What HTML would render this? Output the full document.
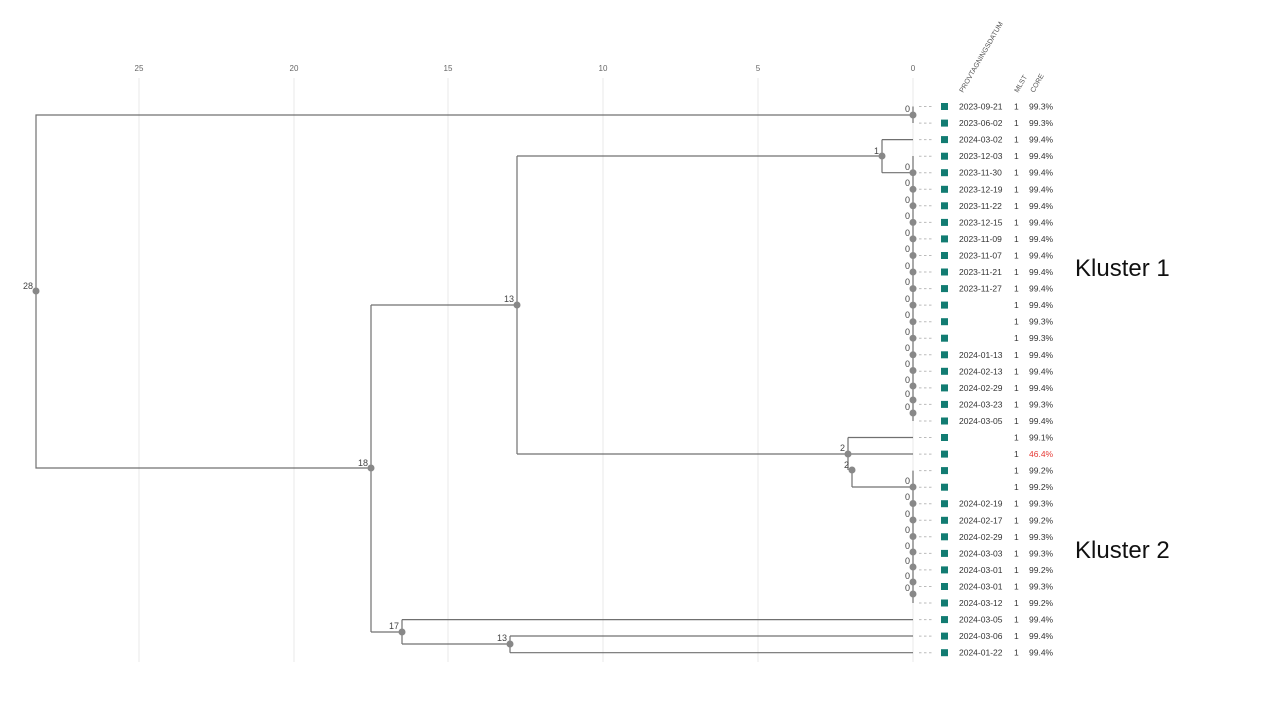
<!DOCTYPE html>
<html><head><meta charset="utf-8"><style>
html,body{margin:0;padding:0;background:#fff;}
svg{display:block;font-family:"Liberation Sans",sans-serif;}
.ax{font-size:8px;fill:#666;text-anchor:middle}
.g{stroke:#e8e8e8;stroke-width:1}
.l{stroke:#707070;stroke-width:1.2;fill:none}
.d{fill:#888}
.n{font-size:9px;fill:#444;text-anchor:end}
.t{font-size:8.5px;fill:#333}
.sq{fill:#127c72}
.ds{stroke:#bbb;stroke-width:1;stroke-dasharray:2.5,2.5}
.h{font-size:7px;fill:#555}
</style></head><body>
<svg width="1280" height="720" viewBox="0 0 1280 720">
<g>
<line class="g" x1="139" y1="78" x2="139" y2="662"/>
<line class="g" x1="294" y1="78" x2="294" y2="662"/>
<line class="g" x1="448" y1="78" x2="448" y2="662"/>
<line class="g" x1="603" y1="78" x2="603" y2="662"/>
<line class="g" x1="758" y1="78" x2="758" y2="662"/>
<line class="g" x1="913" y1="78" x2="913" y2="662"/>
<text class="ax" x="139" y="71">25</text>
<text class="ax" x="294" y="71">20</text>
<text class="ax" x="448" y="71">15</text>
<text class="ax" x="603" y="71">10</text>
<text class="ax" x="758" y="71">5</text>
<text class="ax" x="913" y="71">0</text>
</g>
<text class="h" transform="translate(963,93) rotate(-60)">PROVTAGNINGSDATUM</text>
<text class="h" transform="translate(1018,93) rotate(-60)">MLST</text>
<text class="h" transform="translate(1034,93) rotate(-60)">CORE</text>
<!-- tree lines -->
<path class="l" d="M913,106.5 V123 M913,115 H36 V468 H371"/>
<path class="l" d="M371,305 V632 M371,305 H517 M371,632 H402"/>
<path class="l" d="M517,156 V454 M517,156 H882 M517,454 H848"/>
<path class="l" d="M882,139.6 V172.7 M882,139.6 H913 M882,172.7 H913"/>
<path class="l" d="M913,156 V421"/>
<path class="l" d="M848,437.5 V470 M848,437.5 H913 M848,454 H913"/>
<path class="l" d="M852,470 V487 M852,487 H913 M913,470.6 V603"/>
<path class="l" d="M402,619.6 V644 M402,619.6 H913 M402,644 H510"/>
<path class="l" d="M510,636 V652.7 M510,636 H913 M510,652.7 H913"/>
<!-- dots -->
<g class="d">
<circle cx="36" cy="291" r="3.5"/><circle cx="371" cy="468" r="3.5"/><circle cx="517" cy="305" r="3.5"/>
<circle cx="882" cy="156" r="3.5"/><circle cx="848" cy="454" r="3.5"/><circle cx="852" cy="470" r="3.5"/>
<circle cx="402" cy="632" r="3.5"/><circle cx="510" cy="644" r="3.5"/><circle cx="913" cy="115" r="3.5"/>
<circle cx="913" cy="172.7" r="3.5"/><circle cx="913" cy="189.3" r="3.5"/><circle cx="913" cy="205.8" r="3.5"/>
<circle cx="913" cy="222.4" r="3.5"/><circle cx="913" cy="238.9" r="3.5"/><circle cx="913" cy="255.5" r="3.5"/>
<circle cx="913" cy="272" r="3.5"/><circle cx="913" cy="288.6" r="3.5"/><circle cx="913" cy="305.1" r="3.5"/>
<circle cx="913" cy="321.7" r="3.5"/><circle cx="913" cy="338.2" r="3.5"/><circle cx="913" cy="354.8" r="3.5"/>
<circle cx="913" cy="370.5" r="3.5"/><circle cx="913" cy="386" r="3.5"/><circle cx="913" cy="400" r="3.5"/>
<circle cx="913" cy="413" r="3.5"/>
<circle cx="913" cy="487" r="3.5"/><circle cx="913" cy="503.5" r="3.5"/><circle cx="913" cy="520" r="3.5"/>
<circle cx="913" cy="536.5" r="3.5"/><circle cx="913" cy="552" r="3.5"/><circle cx="913" cy="567" r="3.5"/>
<circle cx="913" cy="582" r="3.5"/><circle cx="913" cy="594" r="3.5"/>
</g>
<g class="n">
<text x="33" y="289">28</text><text x="368" y="466">18</text><text x="514" y="302">13</text>
<text x="879" y="154">1</text><text x="845" y="451">2</text><text x="849" y="468">2</text>
<text x="399" y="629">17</text><text x="507" y="641">13</text><text x="910" y="112">0</text>
<text x="910" y="170">0</text><text x="910" y="186">0</text><text x="910" y="203">0</text>
<text x="910" y="219">0</text><text x="910" y="236">0</text><text x="910" y="252">0</text>
<text x="910" y="269">0</text><text x="910" y="285">0</text><text x="910" y="302">0</text>
<text x="910" y="318">0</text><text x="910" y="335">0</text><text x="910" y="351">0</text>
<text x="910" y="367">0</text><text x="910" y="383">0</text><text x="910" y="397">0</text>
<text x="910" y="410">0</text>
<text x="910" y="484">0</text><text x="910" y="500">0</text><text x="910" y="517">0</text>
<text x="910" y="533">0</text><text x="910" y="549">0</text><text x="910" y="564">0</text>
<text x="910" y="579">0</text><text x="910" y="591">0</text>
</g>
<!-- rows -->
<g id="rows">
<g transform="translate(0,106.5)"><line class="ds" x1="919" y1="0" x2="932" y2="0"/><rect class="sq" x="941" y="-3.5" width="7" height="7"/><text class="t" x="959" y="3">2023-09-21</text><text class="t" x="1014" y="3">1</text><text class="t" x="1029" y="3">99.3%</text></g>
<g transform="translate(0,123.1)"><line class="ds" x1="919" y1="0" x2="932" y2="0"/><rect class="sq" x="941" y="-3.5" width="7" height="7"/><text class="t" x="959" y="3">2023-06-02</text><text class="t" x="1014" y="3">1</text><text class="t" x="1029" y="3">99.3%</text></g>
<g transform="translate(0,139.6)"><line class="ds" x1="919" y1="0" x2="932" y2="0"/><rect class="sq" x="941" y="-3.5" width="7" height="7"/><text class="t" x="959" y="3">2024-03-02</text><text class="t" x="1014" y="3">1</text><text class="t" x="1029" y="3">99.4%</text></g>
<g transform="translate(0,156.2)"><line class="ds" x1="919" y1="0" x2="932" y2="0"/><rect class="sq" x="941" y="-3.5" width="7" height="7"/><text class="t" x="959" y="3">2023-12-03</text><text class="t" x="1014" y="3">1</text><text class="t" x="1029" y="3">99.4%</text></g>
<g transform="translate(0,172.7)"><line class="ds" x1="919" y1="0" x2="932" y2="0"/><rect class="sq" x="941" y="-3.5" width="7" height="7"/><text class="t" x="959" y="3">2023-11-30</text><text class="t" x="1014" y="3">1</text><text class="t" x="1029" y="3">99.4%</text></g>
<g transform="translate(0,189.3)"><line class="ds" x1="919" y1="0" x2="932" y2="0"/><rect class="sq" x="941" y="-3.5" width="7" height="7"/><text class="t" x="959" y="3">2023-12-19</text><text class="t" x="1014" y="3">1</text><text class="t" x="1029" y="3">99.4%</text></g>
<g transform="translate(0,205.8)"><line class="ds" x1="919" y1="0" x2="932" y2="0"/><rect class="sq" x="941" y="-3.5" width="7" height="7"/><text class="t" x="959" y="3">2023-11-22</text><text class="t" x="1014" y="3">1</text><text class="t" x="1029" y="3">99.4%</text></g>
<g transform="translate(0,222.4)"><line class="ds" x1="919" y1="0" x2="932" y2="0"/><rect class="sq" x="941" y="-3.5" width="7" height="7"/><text class="t" x="959" y="3">2023-12-15</text><text class="t" x="1014" y="3">1</text><text class="t" x="1029" y="3">99.4%</text></g>
<g transform="translate(0,238.9)"><line class="ds" x1="919" y1="0" x2="932" y2="0"/><rect class="sq" x="941" y="-3.5" width="7" height="7"/><text class="t" x="959" y="3">2023-11-09</text><text class="t" x="1014" y="3">1</text><text class="t" x="1029" y="3">99.4%</text></g>
<g transform="translate(0,255.5)"><line class="ds" x1="919" y1="0" x2="932" y2="0"/><rect class="sq" x="941" y="-3.5" width="7" height="7"/><text class="t" x="959" y="3">2023-11-07</text><text class="t" x="1014" y="3">1</text><text class="t" x="1029" y="3">99.4%</text></g>
<g transform="translate(0,272)"><line class="ds" x1="919" y1="0" x2="932" y2="0"/><rect class="sq" x="941" y="-3.5" width="7" height="7"/><text class="t" x="959" y="3">2023-11-21</text><text class="t" x="1014" y="3">1</text><text class="t" x="1029" y="3">99.4%</text></g>
<g transform="translate(0,288.6)"><line class="ds" x1="919" y1="0" x2="932" y2="0"/><rect class="sq" x="941" y="-3.5" width="7" height="7"/><text class="t" x="959" y="3">2023-11-27</text><text class="t" x="1014" y="3">1</text><text class="t" x="1029" y="3">99.4%</text></g>
<g transform="translate(0,305.1)"><line class="ds" x1="919" y1="0" x2="932" y2="0"/><rect class="sq" x="941" y="-3.5" width="7" height="7"/><text class="t" x="1014" y="3">1</text><text class="t" x="1029" y="3">99.4%</text></g>
<g transform="translate(0,321.7)"><line class="ds" x1="919" y1="0" x2="932" y2="0"/><rect class="sq" x="941" y="-3.5" width="7" height="7"/><text class="t" x="1014" y="3">1</text><text class="t" x="1029" y="3">99.3%</text></g>
<g transform="translate(0,338.2)"><line class="ds" x1="919" y1="0" x2="932" y2="0"/><rect class="sq" x="941" y="-3.5" width="7" height="7"/><text class="t" x="1014" y="3">1</text><text class="t" x="1029" y="3">99.3%</text></g>
<g transform="translate(0,354.8)"><line class="ds" x1="919" y1="0" x2="932" y2="0"/><rect class="sq" x="941" y="-3.5" width="7" height="7"/><text class="t" x="959" y="3">2024-01-13</text><text class="t" x="1014" y="3">1</text><text class="t" x="1029" y="3">99.4%</text></g>
<g transform="translate(0,371.3)"><line class="ds" x1="919" y1="0" x2="932" y2="0"/><rect class="sq" x="941" y="-3.5" width="7" height="7"/><text class="t" x="959" y="3">2024-02-13</text><text class="t" x="1014" y="3">1</text><text class="t" x="1029" y="3">99.4%</text></g>
<g transform="translate(0,387.9)"><line class="ds" x1="919" y1="0" x2="932" y2="0"/><rect class="sq" x="941" y="-3.5" width="7" height="7"/><text class="t" x="959" y="3">2024-02-29</text><text class="t" x="1014" y="3">1</text><text class="t" x="1029" y="3">99.4%</text></g>
<g transform="translate(0,404.4)"><line class="ds" x1="919" y1="0" x2="932" y2="0"/><rect class="sq" x="941" y="-3.5" width="7" height="7"/><text class="t" x="959" y="3">2024-03-23</text><text class="t" x="1014" y="3">1</text><text class="t" x="1029" y="3">99.3%</text></g>
<g transform="translate(0,421)"><line class="ds" x1="919" y1="0" x2="932" y2="0"/><rect class="sq" x="941" y="-3.5" width="7" height="7"/><text class="t" x="959" y="3">2024-03-05</text><text class="t" x="1014" y="3">1</text><text class="t" x="1029" y="3">99.4%</text></g>
<g transform="translate(0,437.5)"><line class="ds" x1="919" y1="0" x2="932" y2="0"/><rect class="sq" x="941" y="-3.5" width="7" height="7"/><text class="t" x="1014" y="3">1</text><text class="t" x="1029" y="3">99.1%</text></g>
<g transform="translate(0,454.1)"><line class="ds" x1="919" y1="0" x2="932" y2="0"/><rect class="sq" x="941" y="-3.5" width="7" height="7"/><text class="t" x="1014" y="3">1</text><text class="t" x="1029" y="3" style="fill:#e53935">46.4%</text></g>
<g transform="translate(0,470.6)"><line class="ds" x1="919" y1="0" x2="932" y2="0"/><rect class="sq" x="941" y="-3.5" width="7" height="7"/><text class="t" x="1014" y="3">1</text><text class="t" x="1029" y="3">99.2%</text></g>
<g transform="translate(0,487.2)"><line class="ds" x1="919" y1="0" x2="932" y2="0"/><rect class="sq" x="941" y="-3.5" width="7" height="7"/><text class="t" x="1014" y="3">1</text><text class="t" x="1029" y="3">99.2%</text></g>
<g transform="translate(0,503.7)"><line class="ds" x1="919" y1="0" x2="932" y2="0"/><rect class="sq" x="941" y="-3.5" width="7" height="7"/><text class="t" x="959" y="3">2024-02-19</text><text class="t" x="1014" y="3">1</text><text class="t" x="1029" y="3">99.3%</text></g>
<g transform="translate(0,520.3)"><line class="ds" x1="919" y1="0" x2="932" y2="0"/><rect class="sq" x="941" y="-3.5" width="7" height="7"/><text class="t" x="959" y="3">2024-02-17</text><text class="t" x="1014" y="3">1</text><text class="t" x="1029" y="3">99.2%</text></g>
<g transform="translate(0,536.8)"><line class="ds" x1="919" y1="0" x2="932" y2="0"/><rect class="sq" x="941" y="-3.5" width="7" height="7"/><text class="t" x="959" y="3">2024-02-29</text><text class="t" x="1014" y="3">1</text><text class="t" x="1029" y="3">99.3%</text></g>
<g transform="translate(0,553.4)"><line class="ds" x1="919" y1="0" x2="932" y2="0"/><rect class="sq" x="941" y="-3.5" width="7" height="7"/><text class="t" x="959" y="3">2024-03-03</text><text class="t" x="1014" y="3">1</text><text class="t" x="1029" y="3">99.3%</text></g>
<g transform="translate(0,569.9)"><line class="ds" x1="919" y1="0" x2="932" y2="0"/><rect class="sq" x="941" y="-3.5" width="7" height="7"/><text class="t" x="959" y="3">2024-03-01</text><text class="t" x="1014" y="3">1</text><text class="t" x="1029" y="3">99.2%</text></g>
<g transform="translate(0,586.5)"><line class="ds" x1="919" y1="0" x2="932" y2="0"/><rect class="sq" x="941" y="-3.5" width="7" height="7"/><text class="t" x="959" y="3">2024-03-01</text><text class="t" x="1014" y="3">1</text><text class="t" x="1029" y="3">99.3%</text></g>
<g transform="translate(0,603)"><line class="ds" x1="919" y1="0" x2="932" y2="0"/><rect class="sq" x="941" y="-3.5" width="7" height="7"/><text class="t" x="959" y="3">2024-03-12</text><text class="t" x="1014" y="3">1</text><text class="t" x="1029" y="3">99.2%</text></g>
<g transform="translate(0,619.6)"><line class="ds" x1="919" y1="0" x2="932" y2="0"/><rect class="sq" x="941" y="-3.5" width="7" height="7"/><text class="t" x="959" y="3">2024-03-05</text><text class="t" x="1014" y="3">1</text><text class="t" x="1029" y="3">99.4%</text></g>
<g transform="translate(0,636.1)"><line class="ds" x1="919" y1="0" x2="932" y2="0"/><rect class="sq" x="941" y="-3.5" width="7" height="7"/><text class="t" x="959" y="3">2024-03-06</text><text class="t" x="1014" y="3">1</text><text class="t" x="1029" y="3">99.4%</text></g>
<g transform="translate(0,652.7)"><line class="ds" x1="919" y1="0" x2="932" y2="0"/><rect class="sq" x="941" y="-3.5" width="7" height="7"/><text class="t" x="959" y="3">2024-01-22</text><text class="t" x="1014" y="3">1</text><text class="t" x="1029" y="3">99.4%</text></g>
</g>
<text x="1075" y="276" style="font-size:24px;fill:#111">Kluster 1</text>
<text x="1075" y="558" style="font-size:24px;fill:#111">Kluster 2</text>
</svg>
</body></html>
